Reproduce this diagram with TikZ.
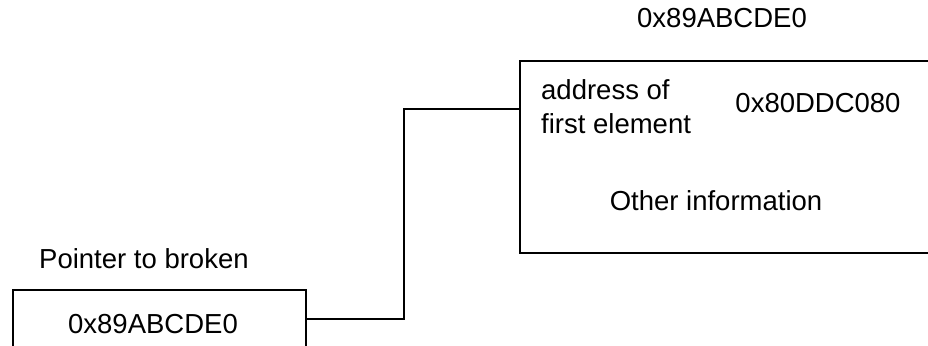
\documentclass[tikz,border=0pt]{standalone}
\usepackage{fontspec}
\setmainfont{Liberation Sans}
\begin{document}
\begin{tikzpicture}[x=1pt,y=-1pt,
  lbl/.style={inner sep=0pt,font=\fontsize{27.5}{32}\selectfont},
  frame/.style={draw=black,line width=2.4pt,inner sep=0pt,rectangle},
  wire/.style={draw=black,line width=2.4pt}]
  \useasboundingbox (0,0) rectangle (928,345);
  \clip (0,0) rectangle (928,345);
  % structure record on the right, running past the edge
  \node[frame,anchor=north west,minimum width=440pt,minimum height=192pt] (rec) at (519,60) {};
  \node[lbl,anchor=base] (recaddr) at (722,28) {0x89ABCDE0};
  \node[lbl,anchor=base west] (addr1) at (541,99) {address of};
  \node[lbl,anchor=base west] (addr2) at (541,133) {first element};
  \node[lbl,anchor=base] (first) at (818,112) {0x80DDC080};
  \node[lbl,anchor=base] (other) at (716,210) {Other information};
  % pointer variable on the left, running past the bottom edge
  \node[lbl,anchor=base west] (ptrname) at (39,268) {Pointer to broken};
  \node[frame,anchor=north west,minimum width=293pt,minimum height=100pt] (ptr) at (12,289) {};
  \node[lbl,anchor=base] (ptrval) at (153,333) {0x89ABCDE0};
  % link from the pointer to the record
  \coordinate (ptrout) at ([yshift=-30pt]ptr.north east);
  \coordinate (recin) at ([yshift=-49pt]rec.north west);
  \draw[wire] (ptrout) -- (404,0 |- ptrout) -- (404,0 |- recin) -- (recin);
\end{tikzpicture}
\end{document}
